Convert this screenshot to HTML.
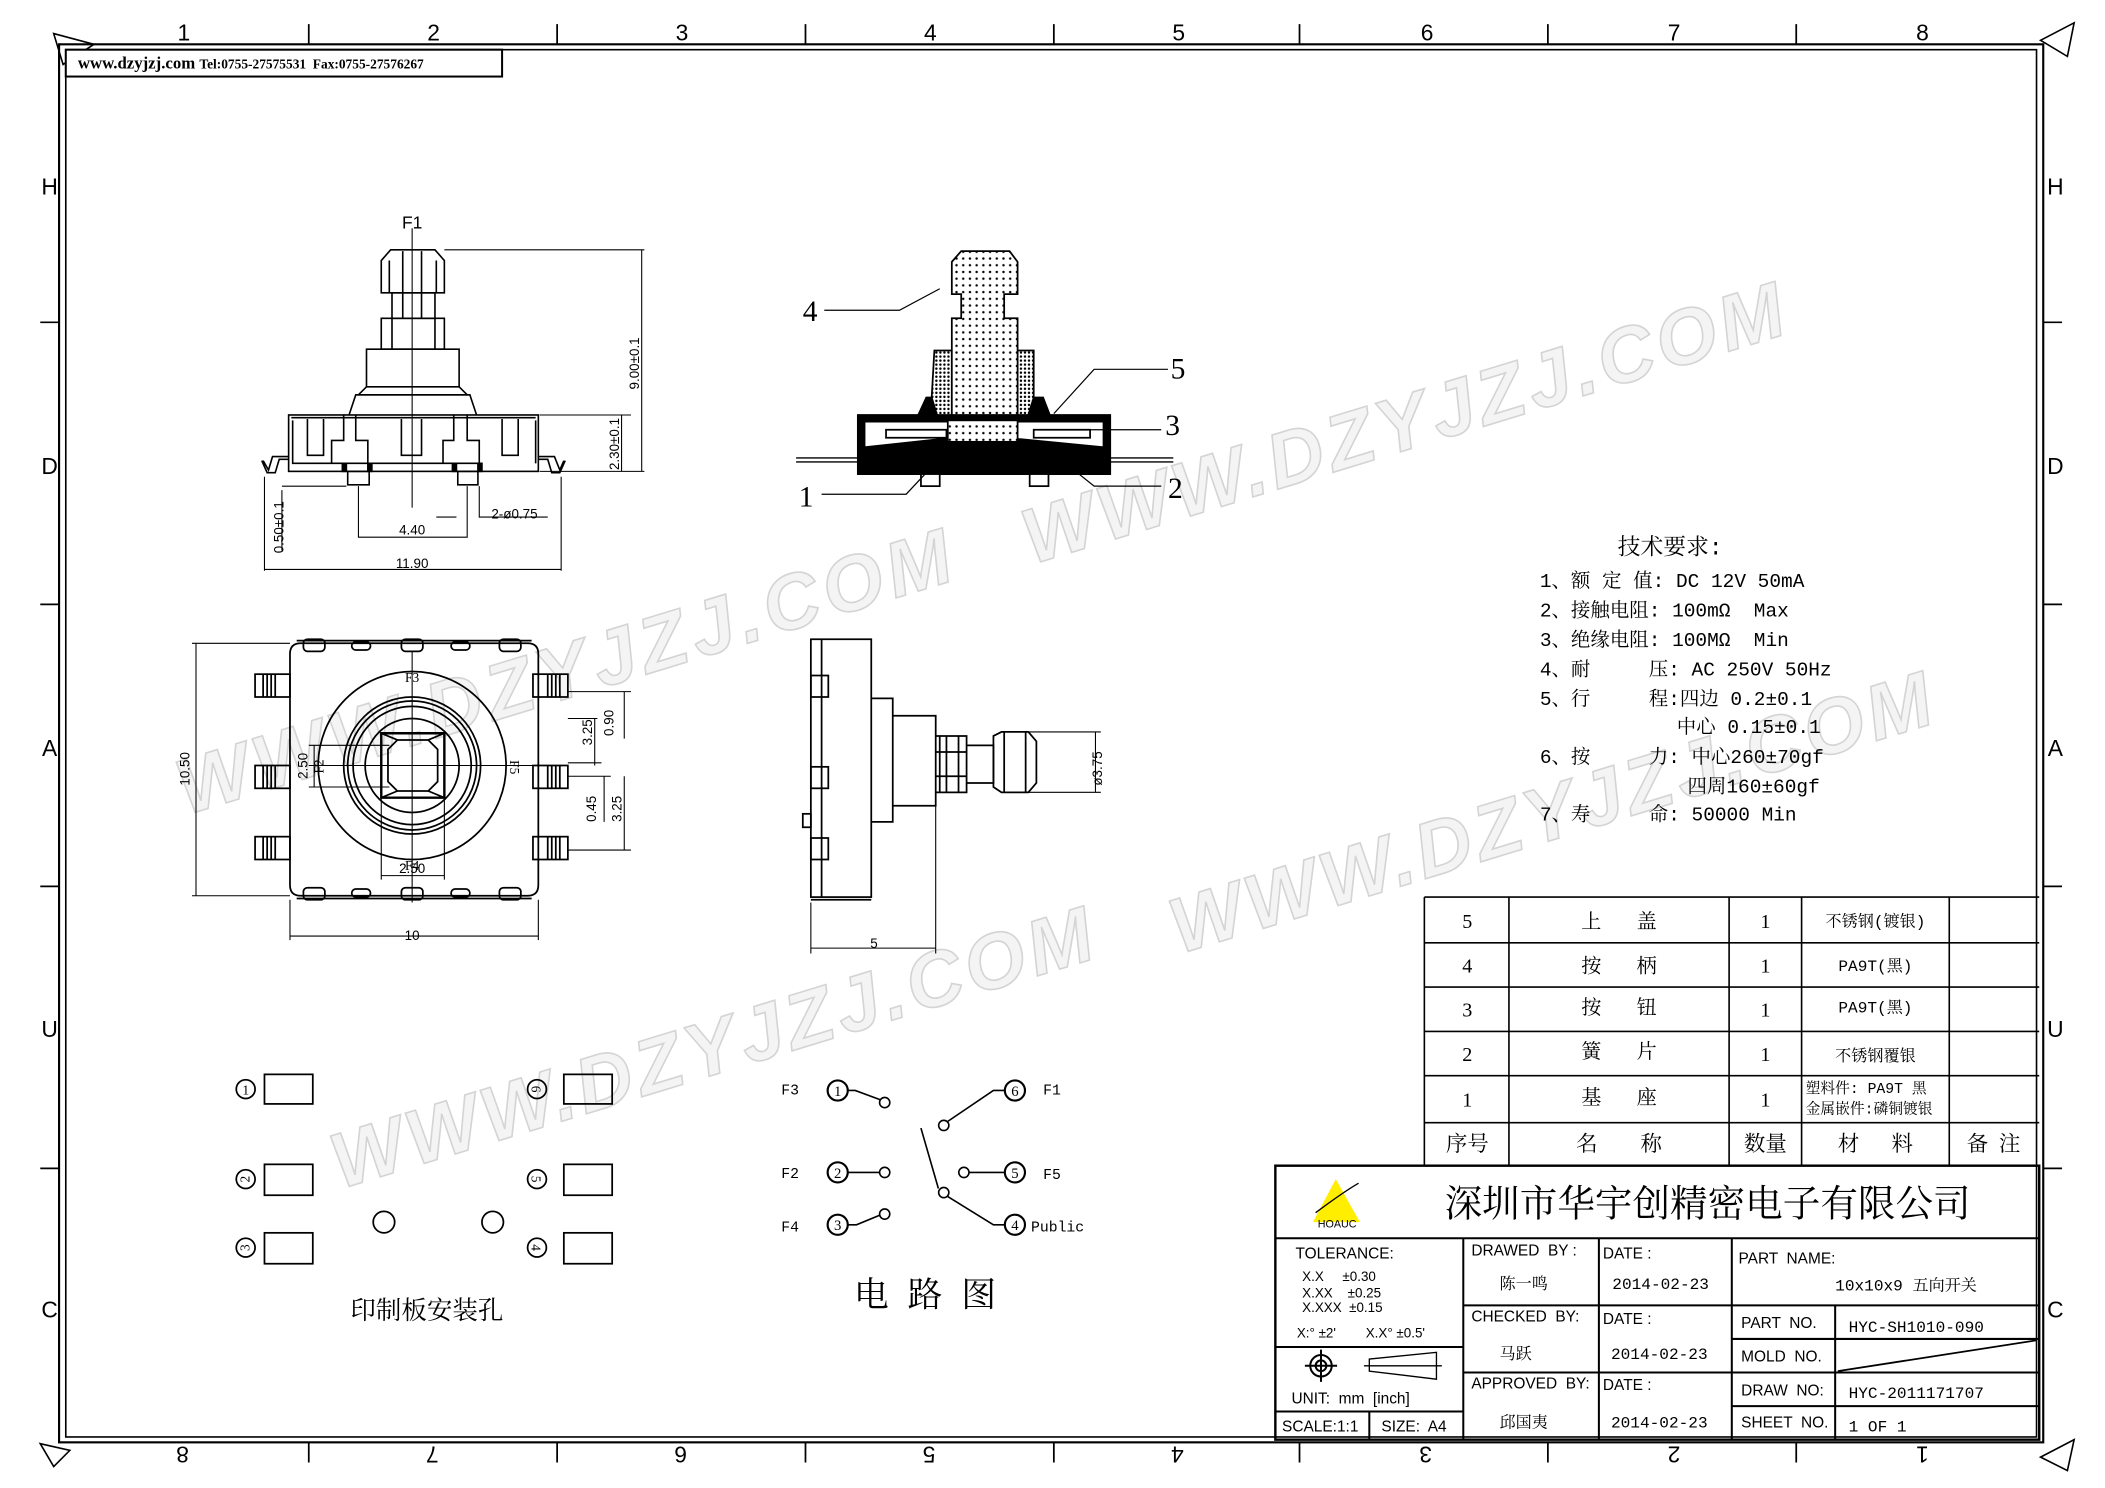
<!DOCTYPE html>
<html><head><meta charset="utf-8"><style>
html,body{margin:0;padding:0;background:#fff;}
svg{display:block;font-family:"Liberation Sans","Noto Sans CJK SC",sans-serif;}
text{white-space:pre;}
.s{font-family:"Liberation Serif","Noto Serif CJK SC",serif;}
.m{font-family:"Liberation Mono","Noto Serif CJK SC",monospace;}
.wm{font-family:"Liberation Sans",sans-serif;font-weight:bold;font-style:italic;fill:#f4f4f4;stroke:#d4d4d4;stroke-width:1.2;}
</style></head><body>
<svg width="2105" height="1488" viewBox="0 0 1568 1108" preserveAspectRatio="none" xmlns="http://www.w3.org/2000/svg">
<rect width="1568" height="1108" fill="#fff"/>
<g class="wm" font-size="58">
<text x="420" y="520" text-anchor="middle" textLength="600" transform="rotate(-17 420 500)">WWW.DZYJZJ.COM</text>
<text x="1045" y="335" text-anchor="middle" textLength="590" transform="rotate(-17 1045 315)">WWW.DZYJZJ.COM</text>
<text x="530" y="800" text-anchor="middle" textLength="590" transform="rotate(-17 530 780)">WWW.DZYJZJ.COM</text>
<text x="1155" y="625" text-anchor="middle" textLength="590" transform="rotate(-17 1155 605)">WWW.DZYJZJ.COM</text>
</g>
<g fill="none" stroke="#000">
<rect x="44" y="33" width="1478" height="1041" stroke-width="1.6"/>
<rect x="49" y="37" width="1468" height="1033" stroke-width="1.2"/>
<path d="M230 18V33M415 18V33M600 18V33M785 18V33M968 18V33M1153 18V33M1338 18V33 M230 1074V1089M415 1074V1089M600 1074V1089M785 1074V1089M968 1074V1089M1153 1074V1089M1338 1074V1089 M30 240H44M30 450H44M30 660H44M30 870H44 M1522 240H1536M1522 450H1536M1522 660H1536M1522 870H1536" stroke-width="1.3"/>
<path d="M40 25L70 33L47 48Z M1520 30L1545 17L1540 42Z M30 1075L52 1080L40 1092Z M1520 1085L1545 1072L1540 1095Z" stroke-width="1.2"/>
</g>
<g font-size="17" text-anchor="middle">
<text x="137" y="30">1</text><text x="323" y="30">2</text><text x="508" y="30">3</text><text x="693" y="30">4</text><text x="878" y="30">5</text><text x="1063" y="30">6</text><text x="1247" y="30">7</text><text x="1432" y="30">8</text>
<g transform="rotate(180 784 1083)"><text x="136" y="1089">1</text><text x="321" y="1089">2</text><text x="506" y="1089">3</text><text x="691" y="1089">4</text><text x="876" y="1089">5</text><text x="1061" y="1089">6</text><text x="1246" y="1089">7</text><text x="1432" y="1089">8</text></g>
<text x="37" y="145">H</text><text x="37" y="353">D</text><text x="37" y="563">A</text><text x="37" y="772">U</text><text x="37" y="981">C</text>
<text x="1531" y="145">H</text><text x="1531" y="353">D</text><text x="1531" y="563">A</text><text x="1531" y="772">U</text><text x="1531" y="981">C</text>
</g>
<rect x="49" y="37" width="325" height="20" fill="#fff" stroke="#000" stroke-width="1.5"/>
<text x="58" y="51" class="s" font-size="12.5" font-weight="bold">www.dzyjzj.com <tspan font-size="10">Tel:0755-27575531  Fax:0755-27576267</tspan></text>

<!-- FRONT VIEW -->
<g fill="none" stroke="#000" stroke-width="1.2">
<path d="M307 170V378" stroke-width="0.8"/>
<path d="M284 194L291 186H324L331 194V218H284Z M290 194V218M300 187V218M314 187V218M325 194V218"/>
<path d="M292 218H324V237H292Z M300 218V237M314 218V237"/>
<path d="M284 237H331V260H284Z M292 237V260M324 237V260"/>
<path d="M273 260H342V288H273Z"/>
<path d="M273 288L267 294H348L342 288"/>
<path d="M260 309L265 294H350L355 309"/>
<rect x="215" y="309" width="186" height="42"/>
<path d="M217 311H399"/>
<path d="M218 313V345H345M229 312V339H241V312M256 309V328H247V345H274V328H265V309M299 312V339H314V312M338 309V328H330V345H357V328H348V309M374 312V339H386V312M399 313V345"/>
<rect x="259" y="351" width="16" height="10"/><rect x="341" y="351" width="15" height="10"/>
<rect x="255" y="345" width="3" height="6" fill="#000"/><rect x="274" y="345" width="3" height="6" fill="#000"/>
<rect x="337" y="345" width="3" height="6" fill="#000"/><rect x="356" y="345" width="3" height="6" fill="#000"/>
<path d="M215 340H203L200 350 196 343M195 343L199 352H205L208 342H215" />
<path d="M401 340H413L417 350 420 343M421 343L417 352H411L408 342H401"/>
<path d="M331 186H480M402 309H470M402 351H480M478 186V351M463 309V351" stroke-width="0.8"/>
<path d="M197 355V425M418 355V425M197 424H418 M267 362V400H348V362 M340 385H325M357 362V385H408 M210 362H258M210 365V410" stroke-width="0.8"/>
</g>
<g font-size="10">
<text x="307" y="170" text-anchor="middle" font-size="13">F1</text>
<text x="307" y="423" text-anchor="middle">11.90</text>
<text x="307" y="398" text-anchor="middle">4.40</text>
<text x="366" y="386">2-ø0.75</text>
<text transform="translate(476 290) rotate(-90)">9.00±0.1</text>
<text transform="translate(461 350) rotate(-90)">2.30±0.1</text>
<text transform="translate(211 412) rotate(-90)">0.50±0.1</text>
</g>

<!-- SECTION VIEW -->
<defs><pattern id="dots" width="5" height="5" patternUnits="userSpaceOnUse"><rect width="5" height="5" fill="#fff"/><circle cx="2.5" cy="2.5" r="0.9" fill="#000"/></pattern>
<pattern id="dd" width="3" height="3" patternUnits="userSpaceOnUse"><rect width="3" height="3" fill="#fff"/><circle cx="1.5" cy="1.5" r="0.9" fill="#000"/></pattern></defs>
<g stroke="#000" stroke-width="1.3">
<path d="M639 309H827V353H639Z" fill="#000"/>
<path d="M644 314H822V333L760 327 700 327 644 333Z" fill="#fff"/>
<path d="M593 341H874M593 344H874" stroke-width="1" fill="none"/>
<path d="M684 309L690 296H708V309Z M782 309L777 296H758V309Z" fill="#000"/>
<path d="M696 261H709V309H698L694 296Z M758 261H770V296L766 309H758Z" fill="url(#dd)"/>
<path d="M709 195L716 187H752L758 195V219H748V237H758V309H709V237H716V219H709Z" fill="url(#dots)"/>
<rect x="706" y="313" width="52" height="16" fill="url(#dots)"/>
<path d="M660 320H705V326H660Z M770 320H812V326H770Z" fill="#fff"/>
<rect x="686" y="353" width="14" height="9" fill="#fff"/><rect x="767" y="353" width="14" height="9" fill="#fff"/>
<g fill="none" stroke-width="0.9">
<path d="M700 215L670 231H614"/><path d="M785 308L815 275H870"/><path d="M775 320H865"/>
<path d="M690 352L675 368H612"/><path d="M800 350L815 362H865"/>
</g>
</g>
<g class="s" font-size="22"><text x="598" y="239">4</text><text x="872" y="282">5</text><text x="868" y="324">3</text><text x="595" y="377">1</text><text x="870" y="371">2</text></g>

<!-- TOP VIEW -->
<g fill="none" stroke="#000" stroke-width="1.3">
<path d="M224 479H393Q401 479 401 487V659Q401 667 393 667H224Q216 667 216 659V487Q216 479 224 479Z"/>
<path d="M221 477H396M221 669H396"/>
<g id="nt"><rect x="226" y="476" width="16" height="9" rx="3"/><rect x="262" y="478" width="14" height="6" rx="3"/><rect x="299" y="476" width="16" height="9" rx="3"/><rect x="336" y="478" width="14" height="6" rx="3"/><rect x="372" y="476" width="16" height="9" rx="3"/></g>
<use href="#nt" transform="translate(0 1146) scale(1 -1)"/>
<g id="tb"><rect x="190" y="502" width="26" height="17"/><path d="M196 502V519M199 502V519M202 502V519M205 502V519"/></g>
<use href="#tb" transform="translate(0 68)"/><use href="#tb" transform="translate(0 121)"/>
<use href="#tb" transform="translate(613 0) scale(-1 1)"/><use href="#tb" transform="translate(613 68) scale(-1 1)"/><use href="#tb" transform="translate(613 121) scale(-1 1)"/>
<circle cx="307" cy="570" r="70"/><circle cx="307" cy="570" r="51"/><circle cx="307" cy="570" r="48"/><circle cx="307" cy="570" r="44"/><circle cx="307" cy="570" r="35"/>
<path d="M284 546H331V594H284Z" stroke-width="1.8"/>
<path d="M296 551H319L326 558V582L319 589H296L289 582V558Z"/>
<path d="M284 546L296 551M331 546L319 551M284 594L296 589M331 594L319 589"/>
<g stroke-width="0.8"><path d="M307 485V672M230 570H420"/>
<path d="M143 479H216M143 667H216M146 479V667M216 670V700M401 670V700M216 697H401"/>
<path d="M230 555H290M230 586H290M234 555V586M284 594V655M331 594V655M284 652H331"/>
<path d="M423 515H470M423 535H445M423 568H448M423 578H455M423 633H470M443 535V570M465 515V550M465 578V633M450 578V612"/></g>
</g>
<g font-size="10">
<text transform="translate(141 585) rotate(-90)">10.50</text><text x="307" y="700" text-anchor="middle">10</text>
<text x="307" y="650" text-anchor="middle">2.50</text>
<text transform="translate(229 580) rotate(-90)">2.50</text>
<text transform="translate(441 555) rotate(-90)">3.25</text><text transform="translate(457 548) rotate(-90)">0.90</text>
<text transform="translate(444 612) rotate(-90)">0.45</text><text transform="translate(463 612) rotate(-90)">3.25</text>
<g class="s"><text x="307" y="508" text-anchor="middle">F3</text><text x="307" y="648" text-anchor="middle">F4</text>
<text transform="translate(241 576) rotate(-90)">F2</text><text transform="translate(380 566) rotate(90)">F5</text></g>
</g>

<!-- SIDE VIEW -->
<g fill="none" stroke="#000" stroke-width="1.3">
<rect x="604" y="476" width="45" height="192"/>
<path d="M612 476V668M604 670H649"/>
<rect x="604" y="503" width="13" height="16"/><rect x="604" y="571" width="13" height="16"/><rect x="604" y="624" width="13" height="16"/>
<rect x="598" y="606" width="6" height="10"/>
<path d="M649 520H665V612H649"/>
<path d="M665 533H697V600H665"/>
<path d="M697 548H720V590H697M700 548V590M705 548V590M714 548V590 M697 560H720M697 578H720"/>
<path d="M720 555H740V583H720"/>
<path d="M740 548L746 545H766L772 552V583L766 590H746L740 586Z M748 545V590M764 545V590"/>
<g stroke-width="0.8"><path d="M766 545H820M766 590H820M816 545V590M604 672V710M697 600V710M604 706H697"/></g>
</g>
<g font-size="10"><text x="651" y="706" text-anchor="middle">5</text><text transform="translate(821 585) rotate(-90)">ø3.75</text></g>

<!-- PCB -->
<g fill="none" stroke="#000" stroke-width="1.3">
<rect x="197" y="800" width="36" height="22"/><rect x="197" y="867" width="36" height="23"/><rect x="197" y="918" width="36" height="23"/>
<rect x="420" y="800" width="36" height="22"/><rect x="420" y="867" width="36" height="23"/><rect x="420" y="918" width="36" height="23"/>
<circle cx="286" cy="910" r="8"/><circle cx="367" cy="910" r="8"/>
<circle cx="183" cy="811" r="7"/><circle cx="183" cy="878" r="7"/><circle cx="183" cy="929" r="7"/>
<circle cx="400" cy="811" r="7"/><circle cx="400" cy="878" r="7"/><circle cx="400" cy="929" r="7"/>
</g>
<g font-size="10" text-anchor="middle" class="s"><text x="183" y="815">1</text><text transform="translate(186 878) rotate(-90)">2</text><text transform="translate(186 929) rotate(-90)">3</text>
<text transform="translate(396 811) rotate(90)">6</text><text transform="translate(396 878) rotate(90)">5</text><text transform="translate(396 929) rotate(90)">4</text></g>
<text x="318" y="982" font-size="19" text-anchor="middle" class="s">印制板安装孔</text>

<!-- CIRCUIT -->
<g fill="none" stroke="#000" stroke-width="1.2">
<circle cx="624" cy="812" r="7.5" stroke-width="1.6"/><circle cx="624" cy="873" r="7.5" stroke-width="1.6"/><circle cx="624" cy="912" r="7.5" stroke-width="1.6"/>
<circle cx="756" cy="812" r="7.5" stroke-width="1.6"/><circle cx="756" cy="873" r="7.5" stroke-width="1.6"/><circle cx="756" cy="912" r="7.5" stroke-width="1.6"/>
<circle cx="659" cy="821" r="3.8"/><circle cx="659" cy="873" r="3.8"/><circle cx="659" cy="904" r="3.8"/>
<circle cx="703" cy="838" r="3.8"/><circle cx="718" cy="873" r="3.8"/><circle cx="703" cy="888" r="3.8"/>
<path d="M631 812H637L656 819M631 873H655M631 912H638L655 905M748 812H740L706 835M748 873H722M748 912H740L706 891M686 840L699 885"/>
</g>
<g class="s" font-size="11"><text x="624" y="816" text-anchor="middle">1</text><text x="624" y="877" text-anchor="middle">2</text><text x="624" y="916" text-anchor="middle">3</text>
<text x="756" y="816" text-anchor="middle">6</text><text x="756" y="877" text-anchor="middle">5</text><text x="756" y="916" text-anchor="middle">4</text></g>
<g class="m" font-size="11"><text x="582" y="815">F3</text><text x="582" y="877">F2</text><text x="582" y="917">F4</text>
<text x="777" y="815">F1</text><text x="777" y="878">F5</text><text x="768" y="917">Public</text></g>
<text x="696" y="973" font-size="26" text-anchor="middle" class="s" letter-spacing="14">电路图</text>

<!-- TECH -->
<g class="m" font-size="14.5">
<text x="1205" y="413" font-size="17">技术要求:</text>
<text x="1147" y="437">1、额 定 值: DC 12V 50mA</text>
<text x="1147" y="459">2、接触电阻: 100mΩ  Max</text>
<text x="1147" y="481">3、绝缘电阻: 100MΩ  Min</text>
<text x="1147" y="503">4、耐     压: AC 250V 50Hz</text>
<text x="1147" y="525">5、行     程:四边 0.2±0.1</text>
<text x="1249" y="546">中心 0.15±0.1</text>
<text x="1147" y="568">6、按     力: 中心260±70gf</text>
<text x="1257" y="590">四周160±60gf</text>
<text x="1147" y="611">7、寿     命: 50000 Min</text>
</g>

<!-- BOM TABLE -->
<g fill="none" stroke="#000" stroke-width="1.2">
<path d="M1061 668H1519M1061 702H1519M1061 735H1519M1061 768H1519M1061 801H1519M1061 836H1519M1061 668V868M1124 668V868M1288 668V868M1342 668V868M1452 668V868"/>
</g>
<g class="s" font-size="15" text-anchor="middle">
<text x="1093" y="691">5</text><text x="1093" y="724">4</text><text x="1093" y="757">3</text><text x="1093" y="790">2</text><text x="1093" y="824">1</text>
<text x="1315" y="691">1</text><text x="1315" y="724">1</text><text x="1315" y="757">1</text><text x="1315" y="790">1</text><text x="1315" y="824">1</text>
<text x="1206" y="691">上       盖</text><text x="1206" y="724">按       柄</text><text x="1206" y="755">按       钮</text><text x="1206" y="788">簧       片</text><text x="1206" y="822">基       座</text>
<text x="1093" y="857" font-size="16">序号</text><text x="1206" y="857" font-size="16">名        称</text><text x="1315" y="857" font-size="16">数量</text><text x="1397" y="857" font-size="16">材      料</text><text x="1485" y="857" font-size="16">备  注</text>
<g font-size="12" class="m"><text x="1397" y="690">不锈钢(镀银)</text><text x="1397" y="723">PA9T(黑)</text><text x="1397" y="754">PA9T(黑)</text><text x="1397" y="790">不锈钢覆银</text></g>
<g font-size="11" text-anchor="start" class="m"><text x="1345" y="814">塑料件: PA9T 黑</text><text x="1345" y="829">金属嵌件:磷铜镀银</text></g>
</g>

<!-- TITLE BLOCK -->
<g fill="none" stroke="#000" stroke-width="1.5">
<rect x="950" y="868" width="569" height="204" stroke-width="1.8"/>
<path d="M950 922H1519M1090 922V1072M1191 922V1072M1290 922V1072M1090 972H1519M1367 972V1072M1290 997H1519M1090 1022H1519M1290 1047H1519M950 1003H1090M950 1051H1090M1020 1051V1072"/>
<path d="M1369 1021L1517 998" stroke-width="1.3"/>
<circle cx="984" cy="1017" r="8"/><circle cx="984" cy="1017" r="4"/><path d="M972 1017H996M984 1005V1029"/>
<path d="M1020 1012L1070 1007V1027L1020 1021Z M1016 1017H1074" stroke-width="1"/>
</g>
<path d="M995 878L978 910H1013Z" fill="#ffee00"/>
<path d="M980 903Q1000 888 1012 881" stroke="#000" fill="none"/>
<text x="996" y="914" font-size="8" text-anchor="middle">HOAUC</text>
<text x="1272" y="906" font-size="28" text-anchor="middle" class="s">深圳市华宇创精密电子有限公司</text>
<g font-size="11.5">
<text x="965" y="937">TOLERANCE:</text>
<g font-size="10"><text x="970" y="954">X.X     ±0.30</text><text x="970" y="966">X.XX    ±0.25</text><text x="970" y="977">X.XXX  ±0.15</text><text x="966" y="996">X:° ±2'        X.X° ±0.5'</text></g>
<text x="962" y="1045">UNIT:  mm  [inch]</text>
<text x="955" y="1066">SCALE:1:1</text><text x="1029" y="1066">SIZE:  A4</text>
<text x="1096" y="935">DRAWED  BY :</text><text x="1096" y="984">CHECKED  BY:</text><text x="1096" y="1034">APPROVED  BY:</text>
<text x="1194" y="937">DATE :</text><text x="1194" y="986">DATE :</text><text x="1194" y="1035">DATE :</text>
<text x="1295" y="941">PART  NAME:</text><text x="1297" y="989">PART  NO.</text><text x="1297" y="1014">MOLD  NO.</text><text x="1297" y="1039">DRAW  NO:</text><text x="1297" y="1063">SHEET  NO.</text>
</g>
<g class="m" font-size="12">
<text x="1117" y="960">陈一鸣</text><text x="1117" y="1012">马跃</text><text x="1117" y="1063">邱国夷</text>
<text x="1201" y="960">2014-02-23</text><text x="1200" y="1012">2014-02-23</text><text x="1200" y="1063">2014-02-23</text>
<text x="1367" y="961">10x10x9 五向开关</text>
<text x="1377" y="992">HYC-SH1010-090</text><text x="1377" y="1041">HYC-2011171707</text><text x="1377" y="1066">1 OF 1</text>
</g>
</svg>
</body></html>
